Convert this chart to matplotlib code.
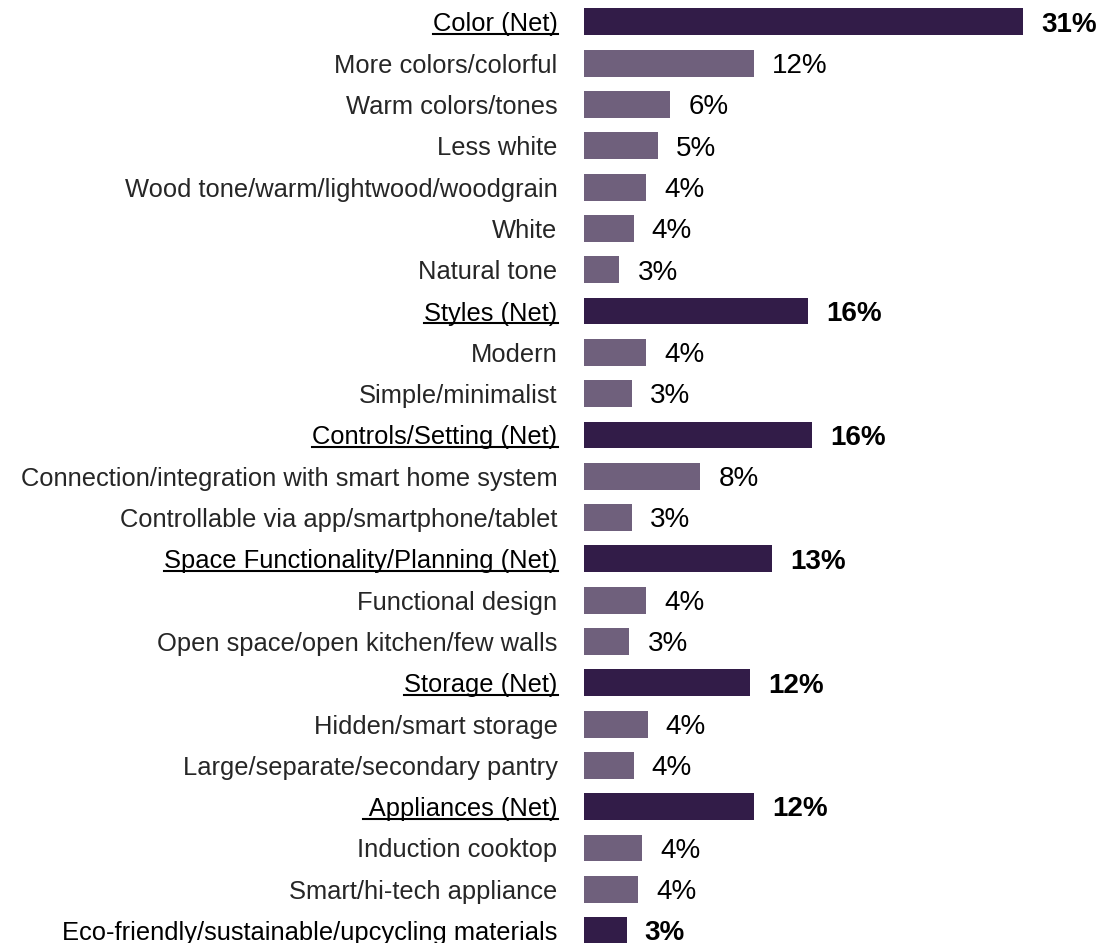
import matplotlib
matplotlib.use("Agg")
import matplotlib.pyplot as plt
from matplotlib.lines import Line2D

plt.rcParams['font.family'] = ['Liberation Sans', 'DejaVu Sans']

# categories, top to bottom
labels = ["Color (Net)", "More colors/colorful", "Warm colors/tones", "Less white",
          "Wood tone/warm/lightwood/woodgrain", "White", "Natural tone",
          "Styles (Net)", "Modern", "Simple/minimalist",
          "Controls/Setting (Net)", "Connection/integration with smart home system",
          "Controllable via app/smartphone/tablet",
          "Space Functionality/Planning (Net)", "Functional design",
          "Open space/open kitchen/few walls",
          "Storage (Net)", "Hidden/smart storage", "Large/separate/secondary pantry",
          " Appliances (Net)", "Induction cooktop", "Smart/hi-tech appliance",
          "Eco-friendly/sustainable/upcycling materials"]
values = [31.0, 12.0, 6.1, 5.2, 4.4, 3.5, 2.5,
          15.8, 4.4, 3.4,
          16.1, 8.2, 3.4,
          13.3, 4.4, 3.2,
          11.7, 4.5, 3.5,
          12.0, 4.1, 3.8,
          3.0]
shown = ["31%", "12%", "6%", "5%", "4%", "4%", "3%",
         "16%", "4%", "3%",
         "16%", "8%", "3%",
         "13%", "4%", "3%",
         "12%", "4%", "4%",
         "12%", "4%", "4%",
         "3%"]
# 1 = net row (dark bar, bold value), 2 = net row with underlined label
kind = [2, 0, 0, 0, 0, 0, 0,
        2, 0, 0,
        2, 0, 0,
        2, 0, 0,
        2, 0, 0,
        2, 0, 0,
        1]

dark = "#321c48"
light = "#6f607c"

fig = plt.figure(figsize=(11.12, 9.43), dpi=100)
ax = fig.add_axes([584 / 1112, 0, 1 - 584 / 1112, 1])

ypos = list(range(len(labels)))
colors = [dark if k else light for k in kind]
bars = ax.barh(ypos, values, height=0.65, color=colors)

for b, txt, k in zip(bars, shown, kind):
    ax.annotate(txt, (b.get_width(), b.get_y() + b.get_height() / 2),
                xytext=(13, -2), textcoords="offset points",
                va="center", ha="left", fontsize=20,
                fontweight="bold" if k else "normal", color="black")

ax.set_xlim(0, 37.26)
ax.set_ylim(22.3, -0.53)
ax.set_yticks(ypos)
ax.set_yticklabels(labels, fontsize=18.4)
ax.tick_params(axis="y", length=0, pad=19)
ax.set_xticks([])
for s in ax.spines.values():
    s.set_visible(False)

for t, k in zip(ax.get_yticklabels(), kind):
    t.set_color("black" if k else "#262626")

# underline the net headings
fig.canvas.draw()
inv = fig.transFigure.inverted()
for t, k in zip(ax.get_yticklabels(), kind):
    if k == 2:
        bb = t.get_window_extent()
        (x0, y0), (x1, _) = inv.transform([(bb.x0, bb.y0 + 2.5), (bb.x1, bb.y0 + 2.5)])
        fig.add_artist(Line2D([x0, x1], [y0, y0], color="black", lw=1.5))

fig.savefig("out.png", dpi=100)
